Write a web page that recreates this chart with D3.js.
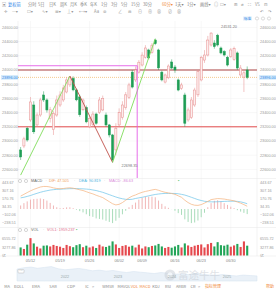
<!DOCTYPE html>
<html>
<head>
<meta charset="utf-8">
<script src="https://cdn.jsdelivr.net/npm/d3@7"></script>
<style>
  body { margin: 0; background: #fff; }
  svg { display: block; font-family: "Liberation Sans", Arial, sans-serif; }
</style>
</head>
<body>
<div id="chart"></div>
<script>
// ---------------- data ----------------
const open  = [22874,22930,23180,23296,23507,23226,23366,23648,23578,23320,23160,23366,23507,23578,23690,23790,23880,23720,23620,23440,
               23470,23200,23230,23380,23400,23437,23366,23226,23085,22874,23226,23330,23470,23610,23970,23860,23970,24070,24180,24282,
               24250,24422,24282,23970,23830,23890,24113,24042,23860,23740,23648,23296,23330,23507,23650,23860,24140,24211,24352,24380,
               24490,24310,24260,24180,24190,24150,24240,23930,23900,24000];
const high  = [22915,23060,23200,23620,23560,23400,23610,23700,23600,23480,23420,23640,23700,23790,23900,23915,23910,23740,23650,23600,
               23500,23350,23420,23400,23620,23640,23400,23240,23100,23250,23460,23560,23690,23820,24000,24050,24140,24250,24350,24300,
               24380,24440,24300,23990,23950,24080,24150,24070,23880,23820,23680,23470,23620,23750,24000,24200,24280,24480,24531.2,24420,
               24510,24330,24280,24200,24310,24330,24260,24070,24000,24050];
const low   = [22733,22900,22990,23270,23100,23200,23340,23550,23400,23260,23085,23340,23480,23550,23670,23760,23700,23560,23340,23420,
               23250,23180,23210,23230,23380,23420,23200,23050,22698.35,22800,23200,23300,23440,23590,23740,23830,23950,24050,24160,24150,
               24230,24350,24000,23840,23810,23870,24010,23960,23700,23720,23200,23270,23310,23480,23620,23840,24100,24190,24330,24300,
               24330,24220,24190,24050,24170,24130,24000,23900,23690,23870];
const close = [22775,23030,23014,23550,23130,23366,23578,23578,23437,23440,23390,23578,23648,23747,23860,23900,23720,23580,23370,23578,
               23270,23320,23380,23250,23578,23600,23226,23085,22733,23180,23400,23507,23650,23790,23760,24000,24110,24210,24310,24170,
               24350,24370,24030,23860,23930,24056,24028,24000,23718,23790,23250,23437,23578,23718,23980,24180,24211,24422,24520,24330,
               24352,24240,24211,24070,24282,24300,24028,24028,23960,23896];
const volume = [3200,2600,4300,6900,4800,3500,2800,3900,4000,3600,4200,3800,3500,3000,4200,3700,3300,4100,4500,3300,
                3900,3200,3600,3000,4300,3600,3400,3900,5600,4400,3000,3800,4100,3500,3900,3200,4300,2800,3600,3300,
                3800,4000,4600,3600,3000,3400,3100,3600,4200,3200,4800,4000,3400,3900,4200,4400,3200,4500,5000,3600,
                5300,4100,3900,4300,3500,4000,4600,3400,5600,3900];
const dif = [220,250,280,310,335,355,375,385,384,375,360,350,345,350,358,362,355,342,328,315,
             295,275,258,235,215,195,160,125,90,70,80,110,150,190,220,240,265,285,300,312,
             325,335,320,300,285,275,265,250,225,200,150,110,80,65,62,75,100,130,160,170,
             178,175,170,160,150,140,120,100,75,47.505];
const dea = [190,200,215,230,250,268,285,300,312,323,330,335,338,341,344,347,348,348,346,344,
             340,335,325,315,300,285,265,245,225,205,188,175,165,162,166,180,190,200,212,225,
             237,248,256,262,266,265,266,265,260,250,238,220,200,180,160,145,132,125,122,122,
             124,127,130,132,133,133,130,122,108,90.819];
const macd = [60,100,130,160,170,174,180,170,144,104,60,30,14,18,28,30,14,-12,-36,-58,
              -90,-120,-134,-160,-170,-180,-200,-220,-240,-200,-150,-90,-30,30,70,110,160,190,210,210,
              210,200,144,88,46,20,-2,-30,-70,-100,-176,-220,-240,-230,-196,-140,-64,30,100,140,
              150,130,100,70,40,15,-20,-44,-66,-86.63];

const priceTicks = [24600,24400,24200,24000,23800,23600,23400,23200,23000,22800,22600];
const macdTicks = [443.67,307.16,170.76,34.35,-102.06,-238.51];
const volTicks = [6555.72,3277.86];
const dateLabels = ["05/12","05/19","05/26","06/02","06/09","06/16","06/23","06/30"];
const dateIndex = [3,12,21,30,37,47,55,64];

const lastPrice = 23896;
const supportLevel = 23200;
const pressureLevel = 24000;
const boxLevel = 24060, boxIndex = 35.5;
const trendLines = [
  { pts: [[0,22520],[15,23915]], color: "#7fdc5a" },
  { pts: [[15,23915],[28,22698.35]], color: "#c0504a" },
  { pts: [[28,22698.35],[41,24440]], color: "#7fdc5a" }
];
const navVals = [70,78,82,75,80,85,72,66,70,74,68,60,64,58,62,55,50,56,52,48,44,50,46,40,42,38,45,40,36,34,38,33,30,35,32,30];
const navYears = ["2022","2023","2024","2025"];
const navYearX = [65,118,172,227];

// ---------------- setup ----------------
const W = 276, H = 291;
const svg = d3.select("#chart").append("svg").attr("width", W).attr("height", H);
svg.append("rect").attr("width", W).attr("height", H).attr("fill", "#fff");

const plot = { left: 18, right: 257, top: 21, bottom: 178 };
const upC = "#e68a8a", upFill = "#fdeeee", downC = "#1f9d55";

const x = d3.scaleBand().domain(d3.range(72)).range([18.4, 256]).padding(0.36);
const cx = i => x(i) + x.bandwidth() / 2;
const xi = d3.scaleLinear().domain([0, 71]).range([cx(0), cx(71)]);
const y = d3.scaleLinear().domain([22600, 24600]).range([169.4, 27.4]);
const yM = d3.scaleLinear().domain([-238.51, 443.67]).range([223, 183]);
const yV = d3.scaleLinear().domain([0, 6555.72]).range([255.5, 239]);
const fmt = d3.format(".2f");

const candles = open.map((o, i) => ({ i, o, h: high[i], l: low[i], c: close[i], v: volume[i], up: close[i] >= o }));

// ---------------- grid ----------------
const grid = svg.append("g").attr("stroke", "#f0f0f0").attr("stroke-width", 0.5);
grid.selectAll(".hg").data(priceTicks).join("line")
  .attr("x1", plot.left).attr("x2", plot.right).attr("y1", d => y(d)).attr("y2", d => y(d));
grid.selectAll(".vg").data(dateIndex).join("line")
  .attr("x1", d => cx(d)).attr("x2", d => cx(d)).attr("y1", plot.top).attr("y2", 256);
svg.append("g").attr("stroke", "#e6e6e6").attr("stroke-width", 0.5)
  .selectAll("line").data([plot.left, plot.right]).join("line")
  .attr("x1", d => d).attr("x2", d => d).attr("y1", plot.top).attr("y2", 256);
svg.append("g").attr("stroke", "#e6e6e6").attr("stroke-width", 0.5)
  .selectAll("line").data([178.5, 227.5, 256]).join("line")
  .attr("x1", 0).attr("x2", W).attr("y1", d => d).attr("y2", d => d);

// ---------------- axes labels ----------------
const axisText = (g, vals, scale, f) => {
  g.selectAll(".l").data(vals).join("text").attr("x", 2).attr("y", d => scale(d) + 1.3).text(f);
  g.selectAll(".r").data(vals).join("text").attr("x", 260).attr("y", d => scale(d) + 1.3).text(f);
};
const ax = svg.append("g").attr("font-size", 3.8).attr("fill", "#9a9a9a");
axisText(ax.append("g"), priceTicks, y, fmt);
axisText(ax.append("g"), macdTicks, yM, fmt);
axisText(ax.append("g"), volTicks, yV, fmt);
ax.append("text").attr("x", 2).attr("y", yV(0) + 1.3).attr("font-family", "Noto Sans CJK SC").text("亿");
ax.append("text").attr("x", 260).attr("y", yV(0) + 1.3).attr("font-family", "Noto Sans CJK SC").text("亿");

// ---------------- levels ----------------
svg.append("line").attr("x1", plot.left).attr("x2", plot.right)
  .attr("y1", y(pressureLevel)).attr("y2", y(pressureLevel))
  .attr("stroke", "#c98787").attr("stroke-opacity", 0.8).attr("stroke-width", 2);
svg.append("line").attr("x1", plot.left).attr("x2", plot.right)
  .attr("y1", y(supportLevel)).attr("y2", y(supportLevel))
  .attr("stroke", "#e0383a").attr("stroke-width", 0.9);
svg.append("line").attr("x1", plot.left).attr("x2", plot.right)
  .attr("y1", y(lastPrice)).attr("y2", y(lastPrice))
  .attr("stroke", "#f2a541").attr("stroke-width", 0.6).attr("stroke-dasharray", "1,1");

// ---------------- candles ----------------
const cg = svg.append("g");
cg.selectAll(".wick").data(candles).join("line")
  .attr("x1", d => cx(d.i)).attr("x2", d => cx(d.i))
  .attr("y1", d => y(d.h)).attr("y2", d => y(d.l))
  .attr("stroke", d => d.up ? upC : downC).attr("stroke-width", 0.5);
cg.selectAll(".body").data(candles).join("rect")
  .attr("x", d => x(d.i)).attr("width", x.bandwidth())
  .attr("y", d => y(Math.max(d.o, d.c)))
  .attr("height", d => Math.max(0.6, Math.abs(y(d.o) - y(d.c))))
  .attr("fill", d => d.up ? upFill : downC)
  .attr("stroke", d => d.up ? upC : downC).attr("stroke-width", 0.5);

// ---------------- drawings ----------------
svg.append("clipPath").attr("id", "mainClip").append("rect")
  .attr("x", plot.left).attr("y", plot.top).attr("width", plot.right - plot.left).attr("height", plot.bottom - plot.top);
const dg = svg.append("g").attr("clip-path", "url(#mainClip)");
const tl = d3.line().x(d => xi(d[0])).y(d => y(d[1]));
dg.selectAll(".trend").data(trendLines).join("path")
  .attr("d", d => tl(d.pts)).attr("fill", "none")
  .attr("stroke", d => d.color).attr("stroke-width", 0.9);
dg.append("path")
  .attr("d", `M${plot.left},${y(boxLevel)}H${xi(boxIndex)}V${plot.bottom}`)
  .attr("fill", "none").attr("stroke", "#e35ee6").attr("stroke-width", 0.9);

// high / low labels
const hiIdx = high.indexOf(d3.max(high)), loIdx = low.indexOf(d3.min(low));
svg.append("text").attr("x", cx(hiIdx) + 10).attr("y", y(high[hiIdx]) - 4)
  .attr("font-size", 3.8).attr("fill", "#777").text(fmt(high[hiIdx]));
svg.append("text").attr("x", cx(loIdx) + 9).attr("y", y(low[loIdx]) + 5)
  .attr("font-size", 3.8).attr("fill", "#777").text(fmt(low[loIdx]));

// last price tags
[1, 259].forEach(px => {
  svg.append("rect").attr("x", px).attr("y", y(lastPrice) - 2.4).attr("width", 17).attr("height", 4.8).attr("fill", "#d7ecfb");
  svg.append("text").attr("x", px + 1).attr("y", y(lastPrice) + 1.3).attr("font-size", 3.8)
    .attr("fill", "#2b84e6").text(fmt(lastPrice));
});

// ---------------- MACD ----------------
const mg = svg.append("g");
mg.selectAll(".mb").data(macd).join("line")
  .attr("x1", (d, i) => cx(i)).attr("x2", (d, i) => cx(i))
  .attr("y1", yM(0)).attr("y2", d => yM(d))
  .attr("stroke", d => d >= 0 ? "#eea3a3" : "#93d3a8").attr("stroke-width", 0.8);
const ml = d3.line().x((d, i) => cx(i)).y(d => yM(d));
mg.append("path").attr("d", ml(dea)).attr("fill", "none").attr("stroke", "#6cc3e8").attr("stroke-width", 0.7);
mg.append("path").attr("d", ml(dif)).attr("fill", "none").attr("stroke", "#f4b07a").attr("stroke-width", 0.7);

const legend = (yy, items) => {
  const g = svg.append("g").attr("font-size", 3.8);
  [20, 26].forEach(px => g.append("circle").attr("cx", px).attr("cy", yy - 1.2).attr("r", 1.6)
    .attr("fill", "none").attr("stroke", "#999").attr("stroke-width", 0.4));
  items.forEach(([tx, px, col]) => g.append("text").attr("x", px).attr("y", yy).attr("fill", col).text(tx));
};
legend(182.2, [["MACD", 31, "#666"], ["·", 45.5, "#999"], ["DIF: 47.505", 49, "#f0a05a"], ["·", 74, "#999"],
  ["DEA: 90.819", 79, "#4fb3e0"], ["·", 104, "#999"], ["MACD: -86.63", 109, "#d98ad9"], ["▪", 178, "#3dbb5d"]]);
legend(231.2, [["VOL", 31, "#666"], ["·", 43, "#999"], ["VOL1: 1959.237", 47, "#e06a8a"], ["▪", 76, "#3dbb5d"]]);

// ---------------- volume ----------------
svg.append("g").selectAll("rect").data(candles).join("rect")
  .attr("x", d => x(d.i)).attr("width", x.bandwidth())
  .attr("y", d => yV(d.v)).attr("height", d => yV(0) - yV(d.v))
  .attr("fill", d => d.up ? "#e5484d" : "#22a558");

// date labels
svg.append("g").attr("font-size", 3.8).attr("fill", "#888").attr("text-anchor", "middle")
  .selectAll("text").data(dateLabels).join("text")
  .attr("x", (d, i) => cx(dateIndex[i])).attr("y", 262).text(d => d);

// ---------------- navigator ----------------
const nx = d3.scaleLinear().domain([0, navVals.length - 1]).range([17, 257]);
const ny = d3.scaleLinear().domain([0, 100]).range([281, 264]);
svg.append("path").datum(navVals)
  .attr("d", d3.area().x((d, i) => nx(i)).y0(281).y1(d => ny(d)))
  .attr("fill", "#eaf1f8").attr("stroke", "#d3e1ef").attr("stroke-width", 0.5);
svg.append("rect").attr("x", 18).attr("y", 269.5).attr("width", 6).attr("height", 3.5).attr("rx", 0.8)
  .attr("fill", "#fff").attr("stroke", "#aaa").attr("stroke-width", 0.4);
svg.append("text").attr("x", 21).attr("y", 272).attr("font-size", 3.5).attr("text-anchor", "middle").attr("fill", "#777").text("···");

// watermark (drawn under the year labels)
const wm = svg.append("g").attr("opacity", 0.5);
wm.append("circle").attr("cx", 170).attr("cy", 275).attr("r", 5.5).attr("fill", "#c9ced6");
wm.append("circle").attr("cx", 170).attr("cy", 275).attr("r", 2.5).attr("fill", "#fff");
wm.append("text").attr("x", 178).attr("y", 279).attr("font-size", 10.5)
  .attr("font-family", "Noto Sans CJK SC").attr("fill", "#c3c8d0").text("富途牛牛");

svg.append("g").attr("font-size", 3.8).attr("fill", "#9aa").attr("text-anchor", "middle")
  .selectAll("text").data(navYears).join("text")
  .attr("x", (d, i) => navYearX[i]).attr("y", 278).text(d => d);

// ---------------- toolbars ----------------
const cjk = "'Noto Sans CJK SC', 'DejaVu Sans', sans-serif";
const row1 = [["▣", 2, "#888"], ["复权前", 8, "#2b84e6"], ["分时", 28, "#888"], ["5日", 38, "#888"], ["日K", 49, "#888"],
  ["周K", 60, "#888"], ["月K", 70, "#888"], ["季K", 80, "#888"], ["年K", 90, "#888"], ["1分", 101, "#888"], ["3分", 111, "#888"],
  ["5分", 121, "#888"], ["15分", 131, "#888"], ["30分", 143, "#888"], ["60分▾", 162, "#f08a3c"], ["1天▾", 175, "#888"],
  ["1分▾", 187, "#888"], ["画线▾", 200, "#888"], ["◎", 214, "#999"], ["☐▾", 220, "#999"], ["⊞", 234, "#999"],
  ["⌀", 241, "#999"], ["⛶", 248, "#999"], ["VS", 255, "#999"], ["⊟", 264, "#999"]];
svg.append("g").attr("font-size", 4.2).attr("font-family", cjk)
  .selectAll("text").data(row1).join("text")
  .attr("x", d => d[1]).attr("y", 6).attr("fill", d => d[2]).text(d => d[0]);
const row2 = [["✛", 4], ["—▾", 12], ["☐▾", 27], ["∿▾", 42], ["☰▾", 55], ["⊥▾", 67], ["⟷▾", 79], ["Aa", 94], ["⊚", 103],
  ["∠", 118], ["⋒", 128], ["⊖", 138], ["⊕", 148], ["⊗", 157], ["⊘", 168], ["⊗", 177], ["↶", 260], ["↷", 268]];
svg.append("g").attr("font-size", 4.2).attr("font-family", cjk).attr("fill", "#999")
  .selectAll("text").data(row2).join("text")
  .attr("x", d => d[1]).attr("y", 13).text(d => d[0]);
svg.append("rect").attr("x", 243).attr("y", 16.5).attr("width", 9).attr("height", 4).attr("fill", "#e3effb");
svg.append("text").attr("x", 244).attr("y", 19.8).attr("font-size", 3.5).attr("font-family", cjk).attr("fill", "#2b84e6").text("标准");
svg.append("g").attr("fill", "none").attr("stroke", "#aaa").attr("stroke-width", 0.4)
  .selectAll("circle").data([257, 263, 269]).join("circle")
  .attr("cx", d => d).attr("cy", 18.5).attr("r", 1.6);

// bottom indicator tabs
const tabs = [["MA", 7, "#888"], ["BOLL", 19, "#888"], ["EMA", 36, "#888"], ["SAR", 53, "#888"], ["CDP", 71, "#888"],
  ["IC", 87, "#888"], [">", 93, "#888"], ["WMSR", 108, "#888"], ["MAVOL", 124, "#888"], ["VOL", 134.5, "#f08a3c"],
  ["MACD", 145, "#f08a3c"], ["KDJ", 156, "#888"], ["RSI", 168, "#888"], ["ARBR", 181, "#888"], ["CR", 193, "#888"],
  [">", 199, "#888"], ["指标管理", 213, "#f08a3c"], ["帮助", 270, "#f08a3c"]];
svg.append("g").attr("font-size", 4).attr("font-family", cjk).attr("text-anchor", "middle")
  .selectAll("text").data(tabs).join("text")
  .attr("x", d => d[1]).attr("y", 287.5).attr("fill", d => d[2]).text(d => d[0]);
</script>
</body>
</html>
